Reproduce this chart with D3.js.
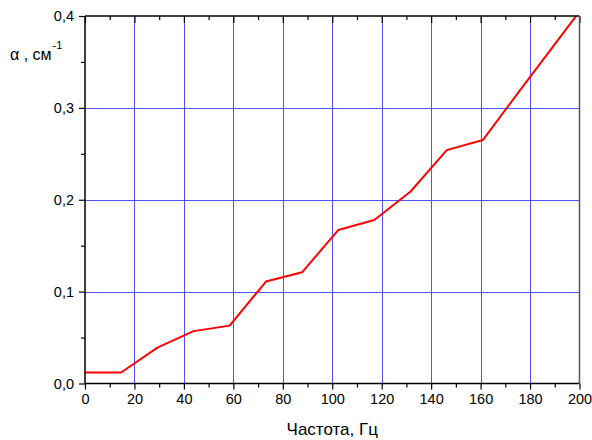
<!DOCTYPE html>
<html>
<head>
<meta charset="utf-8">
<script src="https://cdn.jsdelivr.net/npm/d3@7"></script>
<style>
  body { margin: 0; background: #fff; }
  text { font-family: "Liberation Sans", Arial, sans-serif; fill: #000; }
</style>
</head>
<body>
<svg id="chart" width="592" height="440"></svg>
<script>
// frequency, Hz
var freq = [0, 14.6, 29.3, 43.9, 58.5, 73.2, 87.8, 102.4, 117, 131.7, 146.3, 160.9, 175.6, 190.2, 204.8];
// alpha, cm^-1
var alpha = [0.012, 0.012, 0.039, 0.057, 0.063, 0.111, 0.121, 0.167, 0.178, 0.209, 0.254, 0.265, 0.318, 0.370, 0.422];

var xMajor = [0, 20, 40, 60, 80, 100, 120, 140, 160, 180, 200];
var xMinor = [10, 30, 50, 70, 90, 110, 130, 150, 170, 190];
var yMajor = [0, 0.1, 0.2, 0.3, 0.4];
var yMinor = [0.05, 0.15, 0.25, 0.35];

var svg = d3.select("#chart");
// plot box (window.top is read-only, so no bare "top")
var box = {left: 85, right: 579.5, top: 16, bottom: 383.5};

var x = d3.scaleLinear().domain([0, 200]).range([box.left, box.right]);
var y = d3.scaleLinear().domain([0, 0.4]).range([box.bottom, box.top]);
var fmt = function(d) { return d3.format(".1f")(d).replace(".", ","); };

// grid
svg.append("g").selectAll("line")
  .data(xMajor.slice(1, -1))
  .enter().append("line")
  .attr("x1", function(d) { return Math.round(x(d)) + 0.5; })
  .attr("x2", function(d) { return Math.round(x(d)) + 0.5; })
  .attr("y1", box.top).attr("y2", box.bottom)
  .style("stroke", "#5050ff").style("stroke-width", 1);
svg.append("g").selectAll("line")
  .data(yMajor.slice(1, -1))
  .enter().append("line")
  .attr("y1", function(d) { return Math.round(y(d)) + 0.5; })
  .attr("y2", function(d) { return Math.round(y(d)) + 0.5; })
  .attr("x1", box.left).attr("x2", box.right)
  .style("stroke", "#5050ff").style("stroke-width", 1);

// data line, clipped to plot box
svg.append("clipPath").attr("id", "clip")
  .append("rect").attr("x", box.left).attr("y", box.top)
  .attr("width", box.right - box.left).attr("height", box.bottom - box.top);

var pts = freq.map(function(f, i) { return [f, alpha[i]]; });
svg.append("path")
  .datum(pts)
  .attr("clip-path", "url(#clip)")
  .attr("d", d3.line().x(function(d) { return x(d[0]); }).y(function(d) { return y(d[1]); }))
  .style("fill", "none").style("stroke", "#ff0000").style("stroke-width", 2)
  .style("stroke-linejoin", "round");

// axes
var xAxis = d3.axisBottom(x).tickValues(xMajor).tickSize(6).tickPadding(4).tickFormat(d3.format("d"));
var xAxisMinor = d3.axisBottom(x).tickValues(xMinor).tickSize(4).tickFormat("");
var yAxis = d3.axisLeft(y).tickValues(yMajor).tickSize(6).tickPadding(5).tickFormat(fmt);
var yAxisMinor = d3.axisLeft(y).tickValues(yMinor).tickSize(4).tickFormat("");
var topAxis = d3.axisBottom(x).tickValues(xMajor).tickSize(7).tickFormat("");
var topAxisMinor = d3.axisBottom(x).tickValues(xMinor).tickSize(4).tickFormat("");

function styleAxis(g) {
  g.select(".domain").remove();
  g.selectAll(".tick line").style("stroke", "#000").style("stroke-width", 1.2);
  g.selectAll(".tick text").style("font-size", "14.5px")
    .style("font-family", "'Liberation Sans', Arial, sans-serif");
}

svg.append("g").attr("transform", "translate(0," + box.bottom + ")").call(xAxis).call(styleAxis);
svg.append("g").attr("transform", "translate(0," + box.bottom + ")").call(xAxisMinor).call(styleAxis);
svg.append("g").attr("transform", "translate(" + box.left + ",0)").call(yAxis).call(styleAxis);
svg.append("g").attr("transform", "translate(" + box.left + ",0)").call(yAxisMinor).call(styleAxis);
svg.append("g").attr("transform", "translate(0," + box.top + ")").call(topAxis).call(styleAxis);
svg.append("g").attr("transform", "translate(0," + box.top + ")").call(topAxisMinor).call(styleAxis);

// frame
svg.append("line").attr("x1", box.left).attr("x2", box.right).attr("y1", box.top).attr("y2", box.top)
  .style("stroke", "#000").style("stroke-width", 1.5);
svg.append("line").attr("x1", box.left).attr("x2", box.right).attr("y1", box.bottom).attr("y2", box.bottom)
  .style("stroke", "#000").style("stroke-width", 1.5);
svg.append("line").attr("x1", box.left).attr("x2", box.left).attr("y1", box.top).attr("y2", box.bottom)
  .style("stroke", "#000").style("stroke-width", 1.5);
svg.append("line").attr("x1", box.right).attr("x2", box.right).attr("y1", box.top).attr("y2", box.bottom)
  .style("stroke", "#555").style("stroke-width", 1.5);

// titles
svg.append("text")
  .attr("x", (box.left + box.right) / 2).attr("y", 435)
  .attr("text-anchor", "middle")
  .style("font-size", "17px")
  .text("Частота, Гц");

var yl = svg.append("text").attr("x", 10).attr("y", 60).style("font-size", "16px");
yl.append("tspan").text("α , см");
yl.append("tspan").attr("dy", -11).attr("dx", 1).style("font-size", "11px").text("-1");
</script>
</body>
</html>
